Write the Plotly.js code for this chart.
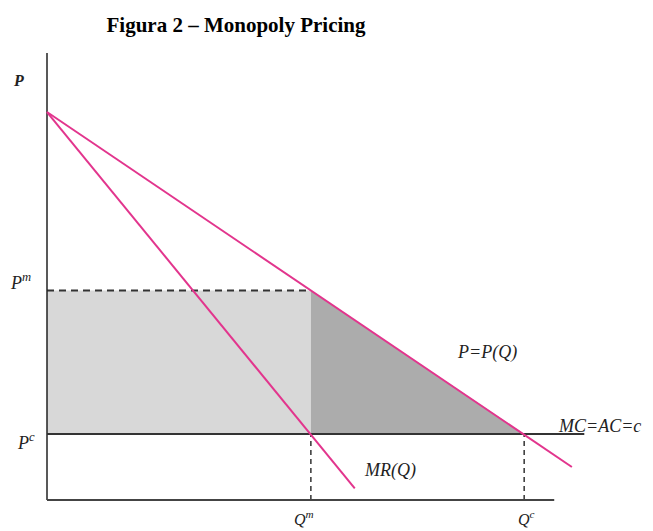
<!DOCTYPE html>
<html>
<head>
<meta charset="utf-8">
<script src="https://cdn.plot.ly/plotly-3.0.1.min.js"></script>
<style>html,body{margin:0;padding:0;background:#fff;}#chart{width:653px;height:531px;}</style>
</head>
<body>
<div id="chart"></div>
<script>
// Quantities and prices (arbitrary units)
const demandQ = [0, 11.0];
const demandP = [10, 0.85];
const mrQ = [0, 6.45];
const mrP = [10, 0.3];
const mcQ = [0, 11.26];
const mcP = [1.7, 1.7];
const Qm = 5.53, Pm = 5.4;
const Qc = 10, Pc = 1.7;
const axisTopP = 11.52;
const axisEndQ = 10.63;

const pink = '#e2358d';
const serif = 'Liberation Serif, Times New Roman, serif';

const traces = [
  {x: [0, Qm, Qm, 0, 0], y: [Pc, Pc, Pm, Pm, Pc], fill: 'toself', fillcolor: '#d8d8d8',
   mode: 'none', hoverinfo: 'skip'},
  {x: [Qm, Qm, Qc, Qm], y: [Pm, Pc, Pc, Pm], fill: 'toself', fillcolor: '#acacac',
   mode: 'none', hoverinfo: 'skip'},
  {x: [0, Qm], y: [Pm, Pm], mode: 'lines', line: {color: '#333', width: 2, dash: '7px,5px'}},
  {x: [Qm, Qm], y: [0, Pc], mode: 'lines', line: {color: '#333', width: 1.5, dash: '5px,4px'}},
  {x: [Qc, Qc], y: [0, Pc], mode: 'lines', line: {color: '#333', width: 1.5, dash: '5px,4px'}},
  {x: [0, 0], y: [0, axisTopP], mode: 'lines', line: {color: '#222', width: 1.5}},
  {x: [0, axisEndQ], y: [0, 0], mode: 'lines', line: {color: '#444', width: 2}},
  {x: mcQ, y: mcP, mode: 'lines', line: {color: '#333', width: 2}},
  {x: demandQ, y: demandP, mode: 'lines', line: {color: pink, width: 2}},
  {x: mrQ, y: mrP, mode: 'lines', line: {color: pink, width: 2}}
];

function lab(text, x, y, xanchor, size) {
  return {text: text, x: x, y: y, xref: 'x', yref: 'y', showarrow: false,
    xanchor: xanchor || 'center', yanchor: 'middle',
    font: {family: serif, size: size || 18, color: '#222'}};
}

const layout = {
  width: 653, height: 531,
  margin: {l: 0, r: 0, t: 40, b: 0},
  paper_bgcolor: '#fff', plot_bgcolor: '#fff',
  showlegend: false,
  title: {text: '<b>Figura 2 – Monopoly Pricing</b>', x: 236/653, xanchor: 'center',
          y: 1 - 25/531, yanchor: 'middle', yref: 'container',
          font: {family: serif, size: 21, color: '#000'}},
  xaxis: {range: [-0.985, 12.70], visible: false, fixedrange: true},
  yaxis: {range: [-0.799, 11.856], visible: false, fixedrange: true},
  annotations: [
    lab('<i><b>P</b></i>', -0.6, 10.8, 'center', 16),
    lab('<i>P<sup>m</sup></i>', -0.55, Pm + 0.23),
    lab('<i>P<sup>c</sup></i>', -0.45, Pc - 0.18),
    lab('<i>Q<sup>m</sup></i>', Qm - 0.15, -0.46, 'center', 16),
    lab('<i>Q<sup>c</sup></i>', Qc + 0.05, -0.46, 'center', 16),
    lab('<i>P=P(Q)</i>', 8.55, 3.8, 'left'),
    lab('<i>MR(Q)</i>', 6.6, 0.75, 'left'),
    lab('<i>MC=AC=c</i>', 10.66, 1.9, 'left')
  ]
};

Plotly.newPlot('chart', traces, layout, {displayModeBar: false, staticPlot: true});
</script>
</body>
</html>
